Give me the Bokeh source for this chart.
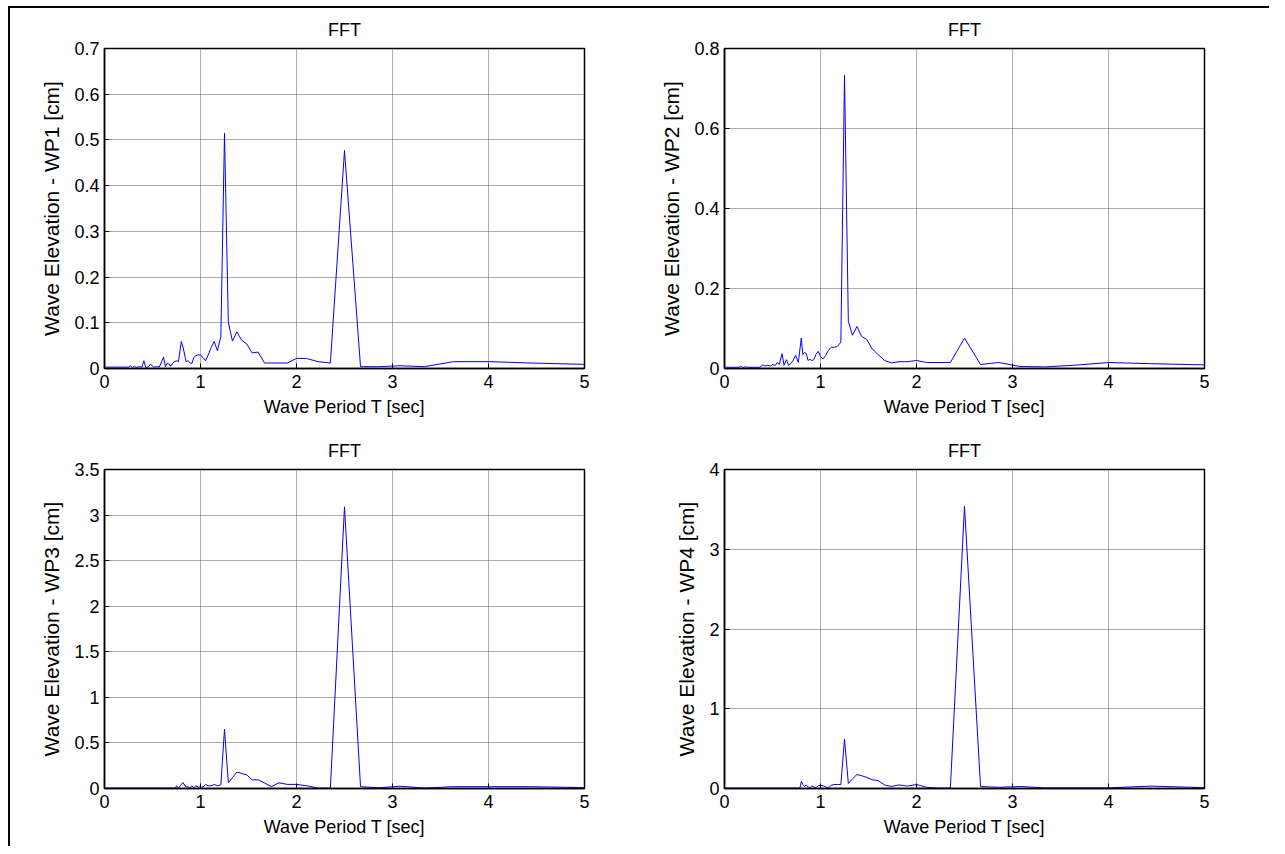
from bokeh.plotting import figure
from bokeh.layouts import column, row
from bokeh.models import FixedTicker, CustomJSTickFormatter, Range1d
from bokeh.embed import file_html
from bokeh.resources import INLINE

# ---------------- data (wave period T [sec] vs FFT amplitude [cm]) ----------------
T_WP1 = [0.01, 0.25, 0.27, 0.29, 0.31, 0.33, 0.36, 0.39, 0.41, 0.43, 0.46, 0.48, 0.51, 0.55, 0.57,
         0.59, 0.615, 0.635, 0.65, 0.67, 0.69, 0.72, 0.75, 0.77, 0.80, 0.82, 0.85, 0.87, 0.89, 0.91,
         0.93, 0.95, 0.976, 1.0, 1.026, 1.053, 1.081, 1.111, 1.143, 1.176, 1.212, 1.25, 1.29, 1.333,
         1.379, 1.429, 1.481, 1.538, 1.60, 1.667, 1.739, 1.818, 1.905, 2.0, 2.105, 2.222, 2.353, 2.5,
         2.667, 2.857, 3.077, 3.333, 3.636, 4.0, 4.444, 5.0]
V_WP1 = [0.003, 0.003, 0.006, 0.002, 0.005, 0.002, 0.004, 0.003, 0.017, 0.002, 0.004, 0.010, 0.003, 0.004, 0.003,
         0.012, 0.025, 0.004, 0.011, 0.010, 0.005, 0.014, 0.017, 0.015, 0.059, 0.045, 0.015, 0.017, 0.013, 0.011,
         0.024, 0.028, 0.030, 0.029, 0.024, 0.017, 0.030, 0.046, 0.059, 0.039, 0.070, 0.515, 0.101, 0.060,
         0.080, 0.062, 0.054, 0.034, 0.036, 0.012, 0.012, 0.012, 0.012, 0.022, 0.022, 0.015, 0.012, 0.477,
         0.004, 0.004, 0.006, 0.004, 0.015, 0.015, 0.012, 0.009]

T_WP2 = [0.01, 0.15, 0.17, 0.19, 0.21, 0.25, 0.37, 0.40, 0.42, 0.45, 0.48, 0.50, 0.53, 0.55, 0.57,
         0.60, 0.62, 0.645, 0.667, 0.69, 0.714, 0.741, 0.769, 0.80, 0.816, 0.833, 0.851, 0.87, 0.889,
         0.909, 0.93, 0.952, 0.976, 1.0, 1.026, 1.053, 1.081, 1.111, 1.143, 1.176, 1.212, 1.25, 1.29,
         1.333, 1.379, 1.429, 1.481, 1.538, 1.60, 1.667, 1.739, 1.818, 1.905, 2.0, 2.105, 2.222, 2.353,
         2.5, 2.667, 2.857, 3.077, 3.333, 3.636, 4.0, 4.444, 5.0]
V_WP2 = [0.003, 0.003, 0.006, 0.002, 0.004, 0.003, 0.003, 0.009, 0.006, 0.008, 0.006, 0.010, 0.008, 0.015, 0.010,
         0.037, 0.008, 0.022, 0.008, 0.012, 0.020, 0.033, 0.015, 0.076, 0.035, 0.040, 0.038, 0.020, 0.023,
         0.020, 0.022, 0.035, 0.043, 0.030, 0.024, 0.032, 0.045, 0.053, 0.053, 0.055, 0.066, 0.733, 0.118,
         0.083, 0.105, 0.080, 0.073, 0.049, 0.035, 0.020, 0.014, 0.017, 0.017, 0.020, 0.015, 0.015, 0.015,
         0.076, 0.010, 0.015, 0.005, 0.004, 0.008, 0.015, 0.012, 0.009]

T_WP3 = [0.01, 0.74, 0.75, 0.77, 0.80, 0.816, 0.851, 0.87, 0.889, 0.909, 0.93, 0.952, 0.976, 1.0,
         1.026, 1.053, 1.081, 1.111, 1.143, 1.176, 1.212, 1.25, 1.29, 1.333, 1.379, 1.429, 1.481,
         1.538, 1.60, 1.667, 1.739, 1.818, 1.905, 2.0, 2.105, 2.222, 2.353, 2.5, 2.667, 2.857, 3.077,
         3.333, 3.636, 4.0, 4.444, 5.0]
V_WP3 = [0.005, 0.005, 0.030, 0.005, 0.044, 0.066, 0.015, 0.020, 0.005, 0.030, 0.008, 0.030, 0.015, 0.020,
         0.015, 0.044, 0.030, 0.030, 0.044, 0.030, 0.040, 0.65, 0.062, 0.12, 0.18, 0.165, 0.15,
         0.095, 0.095, 0.06, 0.02, 0.063, 0.045, 0.045, 0.030, 0.005, 0.005, 3.09, 0.02, 0.008, 0.025,
         0.005, 0.02, 0.02, 0.02, 0.01]

T_WP4 = [0.01, 0.785, 0.80, 0.816, 0.833, 0.851, 0.87, 0.889, 0.909, 0.93, 0.952, 0.976, 1.0, 1.026,
         1.053, 1.081, 1.111, 1.143, 1.176, 1.212, 1.25, 1.29, 1.333, 1.379, 1.429, 1.481, 1.538, 1.60,
         1.667, 1.739, 1.818, 1.905, 2.0, 2.105, 2.222, 2.353, 2.5, 2.667, 2.857, 3.077, 3.333, 3.636,
         4.0, 4.444, 5.0]
V_WP4 = [0.005, 0.005, 0.088, 0.05, 0.025, 0.045, 0.02, 0.008, 0.033, 0.02, 0.008, 0.033, 0.04, 0.035,
         0.02, 0.008, 0.04, 0.05, 0.05, 0.05, 0.62, 0.063, 0.12, 0.175, 0.16, 0.14, 0.11, 0.10,
         0.045, 0.025, 0.045, 0.03, 0.05, 0.015, 0.005, 0.005, 3.54, 0.025, 0.015, 0.025, 0.008, 0.008,
         0.008, 0.03, 0.01]

X_TICKS = [0, 1, 2, 3, 4, 5]
Y_TICKS_WP1 = [0, 0.1, 0.2, 0.3, 0.4, 0.5, 0.6, 0.7]
Y_TICKS_WP2 = [0, 0.2, 0.4, 0.6, 0.8]
Y_TICKS_WP3 = [0, 0.5, 1, 1.5, 2, 2.5, 3, 3.5]
Y_TICKS_WP4 = [0, 1, 2, 3, 4]

TITLE = "FFT"
X_LABEL = "Wave Period T [sec]"
Y_LABELS = ["Wave Elevation - WP1 [cm]", "Wave Elevation - WP2 [cm]",
            "Wave Elevation - WP3 [cm]", "Wave Elevation - WP4 [cm]"]

FONT = "Liberation Sans"
FMT = CustomJSTickFormatter(code="return String(Number(tick.toFixed(6)));")


def make_fig(T, V, ylabel, yticks, width, height, bl, br, bt, bb):
    p = figure(width=width, height=height, output_backend="svg", toolbar_location=None,
               x_range=Range1d(0, 5), y_range=Range1d(yticks[0], yticks[-1]),
               min_border_left=bl, min_border_right=br, min_border_top=bt, min_border_bottom=bb,
               title=TITLE)
    p.line(T, V, line_color="#0000ff", line_width=1)
    p.title.text_font = FONT
    p.title.text_font_size = "18px"
    p.title.text_font_style = "normal"
    p.title.text_color = "black"
    p.title.align = "center"
    p.title.vertical_align = "top"
    p.title.standoff = 14
    p.outline_line_color = "black"
    p.outline_line_width = 1.5
    p.outline_line_alpha = 1
    for ax, ticks in ((p.xaxis[0], X_TICKS), (p.yaxis[0], yticks)):
        ax.ticker = FixedTicker(ticks=ticks)
        ax.formatter = FMT
        ax.major_label_text_font = FONT
        ax.major_label_text_font_size = "18px"
        ax.major_label_text_color = "black"
        ax.axis_label_text_font = FONT
        ax.axis_label_text_font_style = "normal"
        ax.axis_label_text_color = "black"
        ax.axis_line_color = "black"
        ax.axis_line_width = 1.5
        ax.major_tick_in = 5
        ax.major_tick_out = 0
        ax.major_tick_line_color = "black"
        ax.minor_tick_line_color = None
    p.xaxis.axis_label = X_LABEL
    p.xaxis.axis_label_text_font_size = "18px"
    p.xaxis.major_label_standoff = 6
    p.xaxis.axis_label_standoff = 6
    p.yaxis.axis_label = ylabel
    p.yaxis.axis_label_text_font_size = "21px"
    p.yaxis.major_label_standoff = 5
    p.yaxis.axis_label_standoff = 8
    p.xgrid[0].ticker = p.xaxis[0].ticker
    p.ygrid[0].ticker = p.yaxis[0].ticker
    for g in (p.xgrid[0], p.ygrid[0]):
        g.grid_line_color = "#5a5a5a"
        g.grid_line_dash = "1 1"
        g.grid_line_width = 1
    p.background_fill_color = "white"
    p.border_fill_color = "white"
    return p


f1 = make_fig(T_WP1, V_WP1, Y_LABELS[0], Y_TICKS_WP1, 618, 421, 94, 44, 40, 61)
f2 = make_fig(T_WP2, V_WP2, Y_LABELS[1], Y_TICKS_WP2, 641, 421, 96, 65, 40, 61)
f3 = make_fig(T_WP3, V_WP3, Y_LABELS[2], Y_TICKS_WP3, 618, 417, 94, 44, 40, 58)
f4 = make_fig(T_WP4, V_WP4, Y_LABELS[3], Y_TICKS_WP4, 641, 417, 96, 65, 40, 58)

layout = column(row(f1, f2), row(f3, f4),
                styles={"border-top": "2px solid black", "border-left": "2px solid black",
                        "margin-top": "6px", "margin-left": "8px"})

open("out.html", "w").write(file_html(layout, INLINE))
